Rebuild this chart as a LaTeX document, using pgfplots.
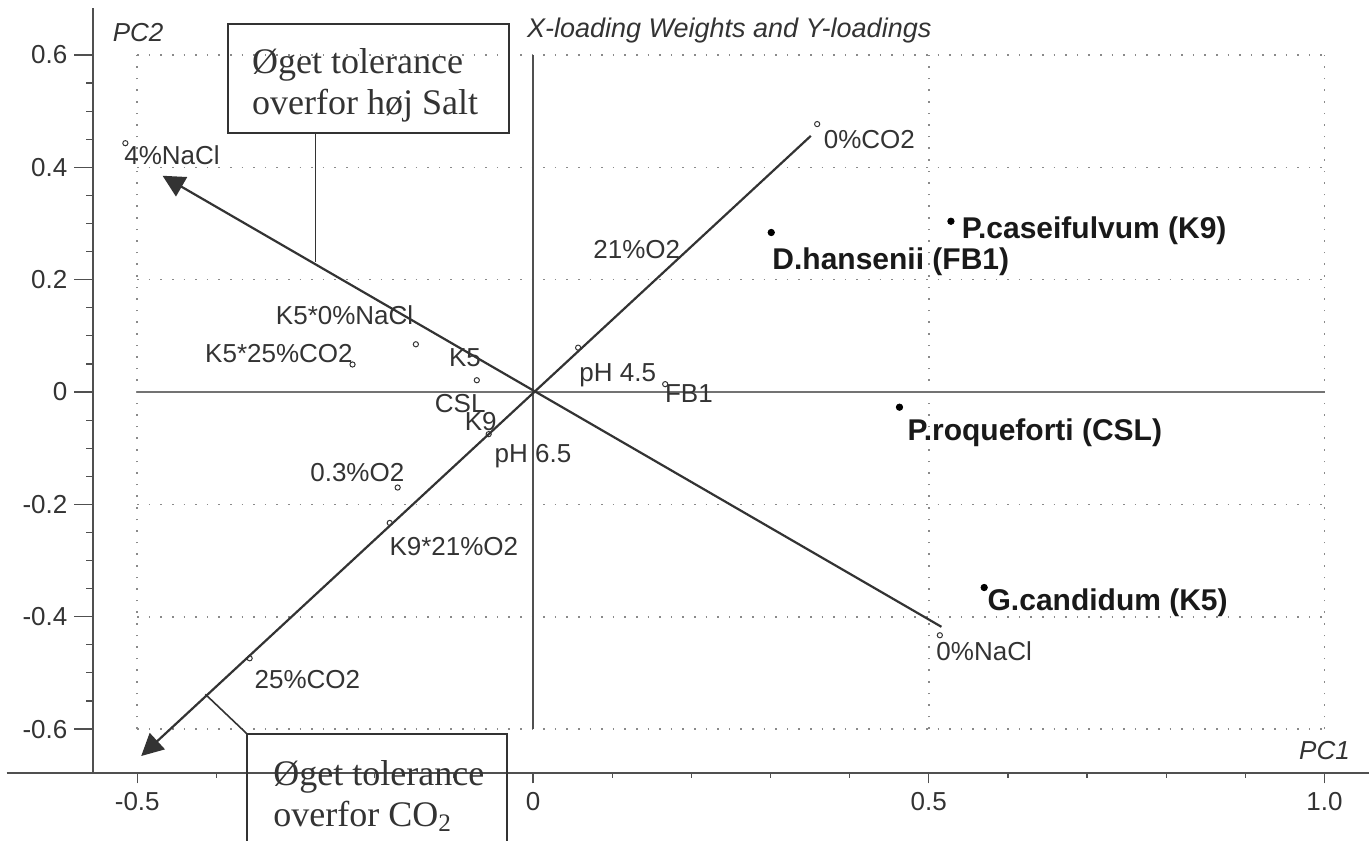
\documentclass[border=0pt]{standalone}
\usepackage{fontspec}
\setmainfont{Liberation Sans}
\newfontfamily\boxfont{Liberation Serif}
\usepackage{pgfplots}
\pgfplotsset{compat=1.18}
\usetikzlibrary{arrows.meta}
\definecolor{ink}{HTML}{333333}
\definecolor{axc}{HTML}{505050}
\definecolor{gridc}{HTML}{8A8A8A}
\newcommand{\lab}{\fontsize{13}{15}\selectfont}
\newcommand{\blab}{\fontsize{15}{17}\selectfont\bfseries}
\begin{document}
\begin{tikzpicture}
\begin{axis}[
  x=395.75pt, y=280.85pt,
  xmin=-0.5559, xmax=1.0562, ymin=-0.678, ymax=0.683,
  axis x line*=bottom, axis y line*=left,
  axis line style={-, axc, line width=0.75pt},
  clip=false,
  xtick={-0.5,0,0.5,1.0}, xticklabels={-0.5,0,0.5,1.0},
  ytick={-0.6,-0.4,-0.2,0,0.2,0.4,0.6},
  yticklabels={-0.6,-0.4,-0.2,0,0.2,0.4,0.6},
  minor xtick={-0.4,-0.3,-0.2,-0.1,0.1,0.2,0.3,0.4,0.6,0.7,0.8,0.9},
  minor ytick={-0.55,-0.5,-0.45,-0.35,-0.3,-0.25,-0.15,-0.1,-0.05,0.05,0.1,0.15,0.25,0.3,0.35,0.45,0.5,0.55},
  tick align=outside,
  major tick length=9.3pt, minor tick length=3.5pt,
  xtick style={/pgfplots/major tick length=5.3pt, /pgfplots/minor tick length=2.5pt},
  tick style={axc, line width=0.6pt},
  ticklabel style={font=\fontsize{13}{15}\selectfont, text=ink},
  xticklabel style={yshift=3pt},
  /pgf/number format/assume math mode=true,
]
% dotted grid
\addplot[gridc, line width=0.8pt, dash pattern=on 0.8pt off 5pt] coordinates {(-0.5,-0.6) (-0.5,0.6)};
\addplot[gridc, line width=0.8pt, dash pattern=on 0.8pt off 5pt] coordinates {(0.5,-0.6) (0.5,0.6)};
\addplot[gridc, line width=0.8pt, dash pattern=on 0.8pt off 5pt] coordinates {(1.0,-0.6) (1.0,0.6)};
\addplot[gridc, line width=0.8pt, dash pattern=on 0.8pt off 5pt] coordinates {(-0.5,0.6) (1.0,0.6)};
\addplot[gridc, line width=0.8pt, dash pattern=on 0.8pt off 5pt] coordinates {(-0.5,0.4) (1.0,0.4)};
\addplot[gridc, line width=0.8pt, dash pattern=on 0.8pt off 5pt] coordinates {(-0.5,0.2) (1.0,0.2)};
\addplot[gridc, line width=0.8pt, dash pattern=on 0.8pt off 5pt] coordinates {(-0.5,-0.2) (1.0,-0.2)};
\addplot[gridc, line width=0.8pt, dash pattern=on 0.8pt off 5pt] coordinates {(-0.5,-0.4) (1.0,-0.4)};
\addplot[gridc, line width=0.8pt, dash pattern=on 0.8pt off 5pt] coordinates {(-0.5,-0.6) (1.0,-0.6)};
% zero lines
\addplot[black!55, line width=0.8pt] coordinates {(-0.5,0) (1.0,0)};
\addplot[axc, line width=0.7pt] coordinates {(0,0.6) (0,-0.6)};
% extended x axis line
\draw[axc, line width=0.75pt] (axis cs:-0.665,-0.678) -- (axis cs:-0.5559,-0.678);
% direction arrows
\addplot[ink, line width=1.1pt, -{Triangle[length=11pt,width=11pt]}] coordinates {(0.516,-0.418) (-0.468,0.385)};
\addplot[ink, line width=1.1pt, -{Triangle[length=11pt,width=11pt]}] coordinates {(0.351,0.456) (-0.495,-0.648)};
% X-loading weights (open circles)
\addplot[only marks, mark=o, mark size=1.3pt, ink, mark options={line width=0.5pt}] coordinates {
(-0.515,0.443) (-0.148,0.085) (-0.228,0.049) (-0.071,0.021) (-0.056,-0.075)
(-0.171,-0.170) (-0.181,-0.233) (-0.358,-0.474) (0.057,0.079) (0.167,0.014)
(0.359,0.477) (0.514,-0.433)};
% Y-loadings (filled dots)
\addplot[only marks, mark=*, mark size=1.6pt, black] coordinates {
(0.528,0.304) (0.301,0.284) (0.463,-0.027) (0.570,-0.348)};
% labels
\node[font=\lab, text=ink, inner sep=0] at (axis cs:-0.456,0.422) {4\%NaCl};
\node[font=\lab, text=ink, inner sep=0] at (axis cs:-0.238,0.137) {K5*0\%NaCl};
\node[font=\lab, text=ink, inner sep=0] at (axis cs:-0.321,0.068) {K5*25\%CO2};
\node[font=\lab, text=ink, inner sep=0] at (axis cs:-0.086,0.062) {K5};
\node[font=\lab, text=ink, inner sep=0] at (axis cs:-0.092,-0.020) {CSL};
\node[font=\lab, text=ink, inner sep=0] at (axis cs:-0.066,-0.052) {K9};
\node[font=\lab, text=ink, inner sep=0] at (axis cs:0.107,0.030) {pH 4.5};
\node[font=\lab, text=ink, inner sep=0] at (axis cs:0.197,-0.002) {FB1};
\node[font=\lab, text=ink, inner sep=0] at (axis cs:0.0,-0.114) {pH 6.5};
\node[font=\lab, text=ink, inner sep=0] at (axis cs:-0.222,-0.143) {0.3\%O2};
\node[font=\lab, text=ink, inner sep=0] at (axis cs:-0.100,-0.275) {K9*21\%O2};
\node[font=\lab, text=ink, inner sep=0] at (axis cs:-0.285,-0.511) {25\%CO2};
\node[font=\lab, text=ink, inner sep=0] at (axis cs:0.131,0.253) {21\%O2};
\node[font=\lab, text=ink, inner sep=0] at (axis cs:0.425,0.449) {0\%CO2};
\node[font=\lab, text=ink, inner sep=0] at (axis cs:0.570,-0.462) {0\%NaCl};
\node[font=\blab, text=black!90, inner sep=0] at (axis cs:0.709,0.288) {P.caseifulvum (K9)};
\node[font=\blab, text=black!90, inner sep=0] at (axis cs:0.452,0.232) {D.hansenii (FB1)};
\node[font=\blab, text=black!90, inner sep=0] at (axis cs:0.634,-0.072) {P.roqueforti (CSL)};
\node[font=\blab, text=black!90, inner sep=0] at (axis cs:0.726,-0.376) {G.candidum (K5)};
% axis titles
\node[font=\itshape\lab, text=ink, inner sep=0] at (axis cs:-0.499,0.640) {PC2};
\node[font=\itshape\lab, text=ink, inner sep=0] at (axis cs:1.0,-0.639) {PC1};
\node[font=\itshape\fontsize{13.5}{15}\selectfont, text=ink, inner sep=0, anchor=west] at (axis cs:-0.008,0.643) {X-loading Weights and Y-loadings};
% callout boxes
\draw[ink, line width=0.8pt] (axis cs:-0.385,0.655) rectangle (axis cs:-0.030,0.461);
\draw[ink, line width=0.8pt] (axis cs:-0.275,0.461) -- (axis cs:-0.275,0.232);
\node[anchor=west, align=left, inner sep=0, font=\boxfont\fontsize{18}{20.5}\selectfont, text=ink] at (axis cs:-0.3553,0.5455) {Øget tolerance\\overfor høj Salt};
\draw[ink, line width=0.8pt] (axis cs:-0.361,-0.9) -- (axis cs:-0.361,-0.609) -- (axis cs:-0.033,-0.609) -- (axis cs:-0.033,-0.9);
\draw[ink, line width=0.8pt] (axis cs:-0.414,-0.538) -- (axis cs:-0.361,-0.609);
\node[anchor=west, align=left, inner sep=0, font=\boxfont\fontsize{18}{20.5}\selectfont, text=ink] at (axis cs:-0.3285,-0.719) {Øget tolerance\\overfor CO\textsubscript{2}};
% page frame
\coordinate (BL) at (axis cs:-0.6734,-0.7976);
\coordinate (TR) at (axis cs:1.0562,0.6979);
\end{axis}
\pgfresetboundingbox
\path[use as bounding box] (BL) rectangle (TR);
\end{tikzpicture}
\end{document}
